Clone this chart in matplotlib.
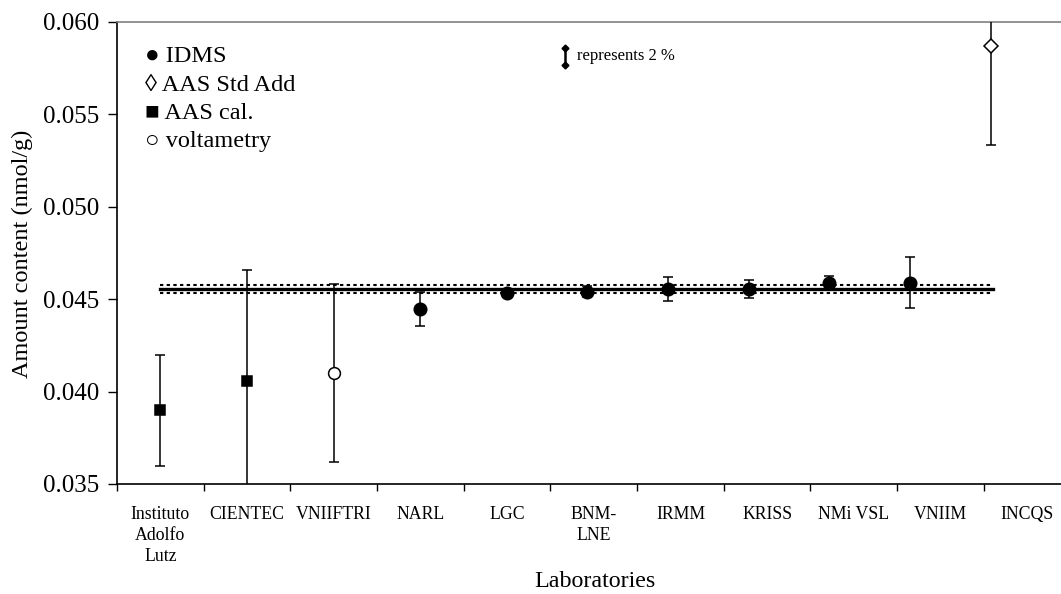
import matplotlib
matplotlib.use("Agg")
from matplotlib import pyplot as plt
import numpy as np

plt.rcParams['font.family'] = ['Liberation Serif', 'DejaVu Serif']

# laboratories, results and uncertainties (nmol/g)
labs = ["Instituto\nAdolfo\nLutz", "CIENTEC", "VNIIFTRI", "NARL", "LGC", "BNM-\nLNE",
        "IRMM", "KRISS", "NMi VSL", "VNIIM", "INCQS"]
# the points do not sit exactly under their labels in the original
point_x = [1.0, 2.0, 3.0, 4.0, 5.0, 5.92, 6.855, 7.79, 8.71, 9.65, 10.58]
values = [0.0390, 0.0406, 0.0410, 0.04447, 0.04534, 0.04540, 0.04555, 0.04555, 0.04588, 0.04590, 0.0587]
uncert = [0.0030, 0.0060, 0.0048, 0.00092, 0.00012, 0.00030, 0.00065, 0.00048, 0.00035, 0.00140, 0.00536]
methods = ["AAS cal.", "AAS cal.", "voltametry", "IDMS", "IDMS", "IDMS",
           "IDMS", "IDMS", "IDMS", "IDMS", "AAS Std Add"]

ref_value = 0.04556
ref_unc = 0.00022
ref_span = [1.0, 10.6]

legend_items = ["\u25cf IDMS", "\u25ca AAS Std Add", "\u25a0 AAS cal.", "\u25cb voltametry"]

marker_style = {
    "IDMS": dict(marker="o", markersize=9, markerfacecolor="black"),
    "AAS cal.": dict(marker="s", markersize=7, markerfacecolor="black"),
    "voltametry": dict(marker="o", markersize=8.5, markerfacecolor="white"),
    "AAS Std Add": dict(marker="D", markersize=7, markerfacecolor="white"),
}

fig = plt.figure(figsize=(10.61, 5.94), dpi=100)
ax = fig.add_axes([0.1103, 0.1852, 0.8897, 0.7778])

x = np.arange(1, len(labs) + 1)

# reference value with its uncertainty band
ax.plot(ref_span, [ref_value, ref_value], color="black", lw=2.4, zorder=1)
for s in (-1, 1):
    ax.plot(ref_span, [ref_value + s * ref_unc] * 2, color="black", lw=1.5,
            linestyle=(0, (1.6, 1.6)), zorder=1)

for xi, v, u, m in zip(point_x, values, uncert, methods):
    ax.errorbar(xi, v, yerr=u, color="black", ecolor="black", elinewidth=1.1,
                capsize=3.6, capthick=1.1, markeredgecolor="black", markeredgewidth=1.1,
                linestyle="none", zorder=3, **marker_style[m])

# 2 % scale indicator
scale_x = 5.67
scale_y = 0.05814
half = 0.01 * ref_value
ax.plot([scale_x, scale_x], [scale_y - half, scale_y + half], color="black", lw=1.8,
        marker="D", markersize=3.5)
ax.text(scale_x + 0.14, scale_y, "represents 2 %", fontsize=12, va="center", ha="left")

# legend as text lines
for i, item in enumerate(legend_items):
    ax.text(0.0296, 0.925 - i * 0.0615, item, transform=ax.transAxes, fontsize=17.5,
            va="center", ha="left")

ax.set_xlim(0.5, 11.39)
ax.set_ylim(0.035, 0.060)
yt = np.arange(0.035, 0.0601, 0.005)
ax.set_yticks(yt)
ax.set_yticklabels(["%.3f" % t for t in yt], fontsize=18)
ax.set_xticks(x)
ax.set_xticklabels(labs, fontsize=12.8, linespacing=1.3)
ax.set_xticks(np.arange(0.5, 11.0, 1.0), minor=True)
ax.tick_params(axis="x", which="major", length=0, pad=16)
ax.tick_params(axis="x", which="minor", length=5, width=1, direction="out")
ax.tick_params(axis="y", length=6.5, width=1, direction="out", pad=6.5)

ax.spines["right"].set_visible(False)
ax.spines["top"].set_color("#808080")
ax.spines["top"].set_linewidth(1.2)
ax.spines["left"].set_linewidth(1.2)
ax.spines["bottom"].set_linewidth(1.2)

fig.text(0.561, 0.011, "Laboratories", fontsize=17.3, ha="center", va="baseline")
fig.text(0.021, 0.573, "Amount content (nmol/g)", fontsize=17.5, rotation=90,
         ha="center", va="center")

fig.savefig("out.png", dpi=100)
